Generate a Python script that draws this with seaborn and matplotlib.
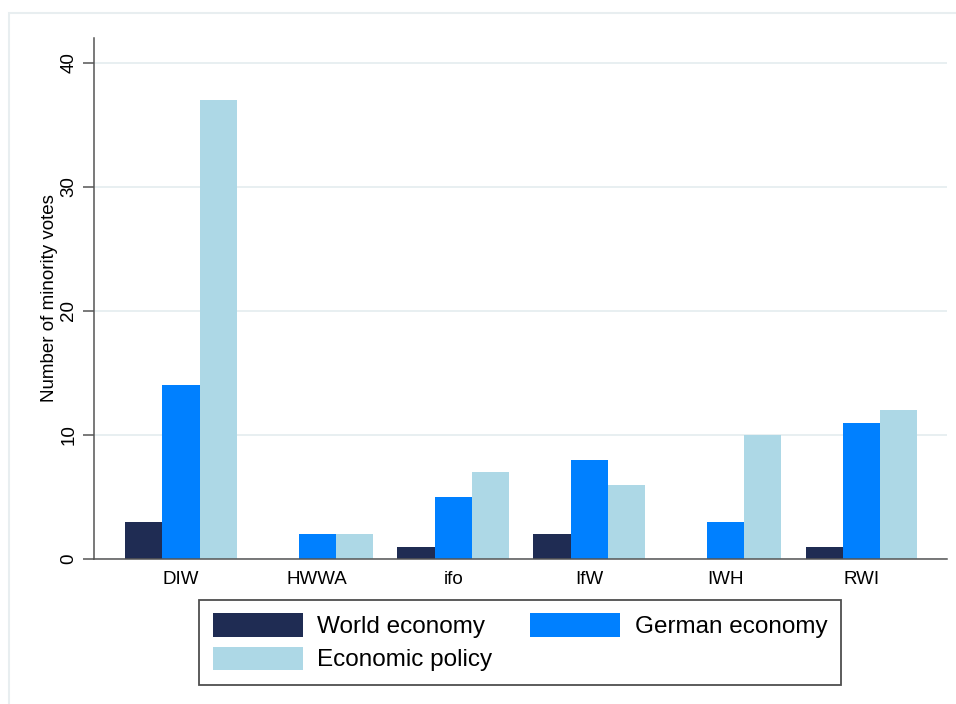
import pandas as pd
import matplotlib
matplotlib.use("Agg")
import matplotlib.pyplot as plt
from matplotlib.patches import Rectangle
import seaborn as sns

# Data
institutes = ["DIW", "HWWA", "ifo", "IfW", "IWH", "RWI"]
world_economy = [3, 0, 1, 2, 0, 1]
german_economy = [14, 2, 5, 8, 3, 11]
economic_policy = [37, 2, 7, 6, 10, 12]

series_names = ["World economy", "German economy", "Economic policy"]
colors = ["#1f2c53", "#0080ff", "#add8e6"]

# Long format for seaborn
rows = []
for name, vals in zip(series_names, [world_economy, german_economy, economic_policy]):
    for inst, v in zip(institutes, vals):
        rows.append({"Institute": inst, "Series": name, "Votes": v})
df = pd.DataFrame(rows)

sns.set_style("white")
plt.rcParams['font.family'] = ['Liberation Sans', 'DejaVu Sans']

fig = plt.figure(figsize=(9.56, 7.04), dpi=100)
ax = fig.add_axes([94 / 956, 1 - 559 / 704, (947 - 94) / 956, (559 - 38) / 704])

sns.barplot(data=df, x="Institute", y="Votes", hue="Series", order=institutes,
            hue_order=series_names, palette=colors, width=0.82, saturation=1,
            edgecolor="none", linewidth=0, ax=ax, legend=True)

ax.set_xlim(-0.64, 5.63)
ax.set_ylim(0, 42)
ax.set_yticks([0, 10, 20, 30, 40])
ax.yaxis.grid(True, color="#e6eef0", linewidth=1.3)
ax.set_axisbelow(True)

for s in ["top", "right"]:
    ax.spines[s].set_visible(False)
for s in ["left", "bottom"]:
    ax.spines[s].set_color("#555555")
    ax.spines[s].set_linewidth(1.1)

ax.tick_params(axis="y", length=8, width=1.1, color="#555555", pad=4,
               labelsize=13.5, left=True, labelcolor="black")
ax.tick_params(axis="x", length=0, pad=9, labelsize=13.5, labelcolor="black")
for lab in ax.get_yticklabels():
    lab.set_rotation(90)
    lab.set_va("center")

ax.set_xlabel("")
ax.set_ylabel("Number of minority votes", fontsize=13.5, labelpad=2, color="black")

# Legend below the plot, Stata style (row-wise order)
handles, labels = ax.get_legend_handles_labels()
ax.get_legend().remove()
order = [0, 2, 1]
leg = fig.legend([handles[i] for i in order], [labels[i] for i in order],
                 loc="upper center", bbox_to_anchor=(520 / 956, 1 - 600 / 704),
                 borderaxespad=0, ncol=2, fontsize=17.5, frameon=True,
                 fancybox=False, handlelength=3.7, handleheight=1.1,
                 handletextpad=0.6, columnspacing=1.55, labelspacing=0.34,
                 borderpad=0.55)
leg.get_frame().set_edgecolor("#222222")
leg.get_frame().set_linewidth(1.3)
for t in leg.get_texts():
    t.set_color("black")

# Light outer frame of the graph region
fig.patches.append(Rectangle((9 / 956, -0.1), 1.2, 1.1 - 13 / 704,
                             transform=fig.transFigure, fill=False,
                             edgecolor="#e8eef0", linewidth=1.5))

fig.savefig("out.png", dpi=100)
